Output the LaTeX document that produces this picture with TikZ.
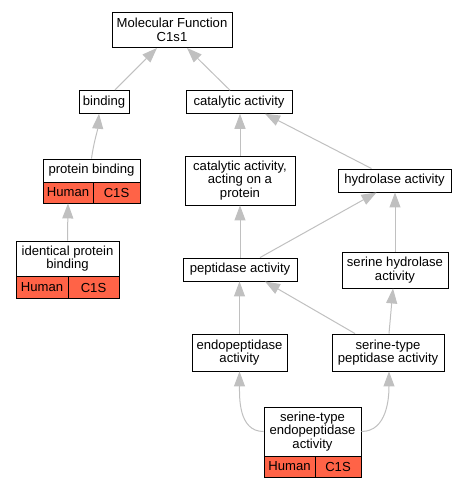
\documentclass[tikz,border=0pt]{standalone}
\usepackage{fontspec}
\setmainfont{Liberation Sans}
\usetikzlibrary{arrows.meta,calc}
\definecolor{tomato}{RGB}{255,99,71}
\definecolor{edgegray}{RGB}{192,192,192}
\begin{document}
\begin{tikzpicture}[x=1pt,y=-1pt,
 box/.style={draw=black, line width=0.9pt, fill=white, inner sep=0pt, align=center, font=\fontsize{13.1}{13.3}\selectfont},
 cell/.style={box, fill=tomato},
 conn/.style={draw=edgegray, line width=1pt, -{Triangle[length=15pt,width=11pt]}}]
\useasboundingbox (0,0) rectangle (467,488);
% nodes
\node[box, minimum width=120pt, minimum height=35.5pt] (mf) at (172,29.75) {Molecular Function\\C1s1};
\node[box, minimum width=50pt, minimum height=23pt] (bind) at (104,101.8) {binding};
\node[box, minimum width=106pt, minimum height=22.6pt] (cat) at (239,102) {catalytic activity};
\node[box, minimum width=97pt, minimum height=23pt] (pbt) at (91.5,170.5) {protein binding};
\node[cell, minimum width=50pt, minimum height=21pt] (pbh) at (68,192.5) {Human};
\node[cell, minimum width=47pt, minimum height=21pt] (pbc) at (116.5,192.5) {C1S};
\node[box, minimum width=103pt, minimum height=35.7pt] (idt) at (67.5,258.85) {identical protein\\binding};
\node[cell, minimum width=52pt, minimum height=21.6pt] (idh) at (42,287.5) {Human};
\node[cell, minimum width=51pt, minimum height=21.6pt] (idc) at (93.5,287.5) {C1S};
\node[box, minimum width=110pt, minimum height=49pt] (acp) at (240,180.5) {catalytic activity,\\acting on a\\protein};
\node[box, minimum width=113pt, minimum height=23pt] (hyd) at (394.5,180.5) {hydrolase activity};
\node[box, minimum width=114pt, minimum height=23pt] (pep) at (240,269.5) {peptidase activity};
\node[box, minimum width=106pt, minimum height=36pt] (sh) at (395,270) {serine hydrolase\\activity};
\node[box, minimum width=95pt, minimum height=37pt] (endo) at (239.5,352.5) {endopeptidase\\activity};
\node[box, minimum width=112pt, minimum height=37pt] (stp) at (388,352.5) {serine-type\\peptidase activity};
\node[box, minimum width=97pt, minimum height=49pt] (seat) at (312.5,431.5) {serine-type\\endopeptidase\\activity};
\node[cell, minimum width=51pt, minimum height=21pt] (seah) at (289.5,466.5) {Human};
\node[cell, minimum width=46pt, minimum height=21pt] (seac) at (338,466.5) {C1S};
% edges
\draw[conn] ($(bind.north)+(11,0)$) -- ($(mf.south)+(-15,0)$);
\draw[conn] ($(cat.north)+(-9,0)$) -- ($(mf.south)+(15,0)$);
\draw[conn] (pbt.north) to[out=82,in=-95] ($(bind.south)+(-5,0)$);
\draw[conn] (idt.north) -- (pbh.south);
\draw[conn] (acp.north) -- (acp.north |- cat.south);
\draw[conn] ($(hyd.north)+(-23,0)$) -- ($(cat.south)+(26,0)$);
\draw[conn] (pep.north) -- (acp.south);
\draw[conn] ($(pep.north)+(20,0)$) -- ($(hyd.south)+(-18,0)$);
\draw[conn] (sh.north) -- (sh.north |- hyd.south);
\draw[conn] (endo.north) -- (endo.north |- pep.south);
\draw[conn] ($(stp.north)+(-33,0)$) -- ($(pep.south)+(25,0)$);
\draw[conn] ($(stp.north)+(1,0)$) -- ($(sh.south)+(-2,0)$);
\draw[conn] (seat.west) to[out=180,in=-90] (endo.south);
\draw[conn] (seat.east) to[out=0,in=-90] ($(stp.south)+(1,0)$);
\end{tikzpicture}
\end{document}
